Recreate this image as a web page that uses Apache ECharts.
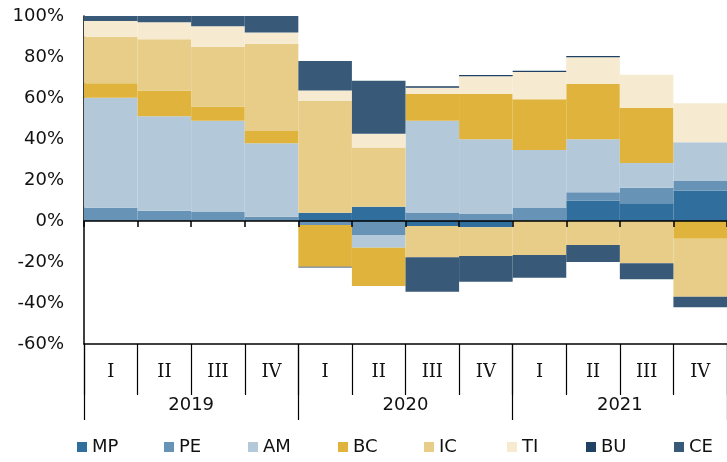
<!DOCTYPE html>
<html>
<head>
<meta charset="utf-8">
<script src="https://cdn.jsdelivr.net/npm/echarts@6/dist/echarts.min.js"></script>
<style>html,body{margin:0;padding:0;background:#fff}#c{width:727px;height:462px}</style>
</head>
<body>
<div id="c"></div>
<script>
var quarters = ['I','II','III','IV','I','II','III','IV','I','II','III','IV'];
var years = ['2019','2020','2021'];
var yTicks = [-60,-40,-20,0,20,40,60,80,100];

var MP = [0, 0, 0, 0, 4.0, 7.0, -2.4, -3.1, 0, 9.9, 8.6, 14.8];
var PE = [6.5, 5.0, 4.4, 2.1, -2.0, -6.8, 4.2, 3.4, 6.3, 4.1, 7.6, 4.7];
var AM = [53.6, 46.1, 44.5, 35.8, 0, -6.2, 44.7, 36.5, 28.3, 25.9, 12.1, 18.9];
var BC = [7.1, 12.5, 6.9, 6.0, -20.3, -18.7, 13.2, 22.2, 24.8, 27.1, 26.8, -8.6];
var IC = [22.7, 25.0, 29.2, 42.6, 54.5, 28.8, -15.3, -14.0, -16.6, -11.7, -20.6, -28.3];
var TI = [7.7, 8.3, 10.0, 5.5, 5.1, 6.8, 2.9, 8.5, 13.3, 12.9, 16.3, 19.0];
var BU = [0, 0, 0, 0, -0.4, 0, 0.7, 0.6, 0.6, 0.6, 0, 0];
var CE = [2.4, 3.1, 5.0, 8.0, 14.4, 25.8, -16.8, -12.5, -11.1, -8.3, -7.8, -5.2];

var seriesNames = ['MP','PE','AM','BC','IC','TI','BU','CE'];
var seriesData = [MP, PE, AM, BC, IC, TI, BU, CE];
var colors = ['#2f6e9d','#6793b7','#b3c8d9','#dfb33c','#e8cd88','#f6ebd0','#1f4263','#385a78'];
var legendLeft = [77, 164, 248, 338, 424, 507, 586, 674];

var FONT = 'DejaVu Sans';
var chart = echarts.init(document.getElementById('c'));
var series = seriesNames.map(function(n, i){
  return {
    name: n, type: 'bar', stack: 'total', xAxisIndex: 0, yAxisIndex: 0,
    barCategoryGap: '0%', data: seriesData[i],
    itemStyle: {color: colors[i]}, emphasis: {disabled: true}
  };
});
var legends = seriesNames.map(function(n, i){
  return {
    left: legendLeft[i], top: 438, itemWidth: 10, itemHeight: 10,
    icon: 'rect', selectedMode: false, padding: 0,
    textStyle: {fontFamily: FONT, fontSize: 18, color: '#111'},
    data: [n]
  };
});

chart.setOption({
  animation: false,
  color: colors,
  grid: {left: 84, top: 16, width: 655, height: 328, containLabel: false},
  legend: legends,
  yAxis: {
    type: 'value', min: yTicks[0], max: yTicks[yTicks.length-1], interval: 20,
    axisLine: {show: true, lineStyle: {color: '#000', width: 1.5}},
    axisTick: {show: false},
    splitLine: {show: false},
    axisLabel: {formatter: '{value}%', fontFamily: FONT, fontSize: 18, color: '#111', margin: 20}
  },
  xAxis: [
    {
      type: 'category', data: quarters, z: 10,
      axisLine: {onZero: true, lineStyle: {color: '#000', width: 1.5}},
      axisTick: {show: true, length: 6, interval: 0, lineStyle: {color: '#000', width: 1.5}},
      axisLabel: {show: false}
    },
    {
      type: 'category', data: quarters, position: 'bottom',
      axisLine: {onZero: false, show: true, lineStyle: {color: '#000', width: 1.5}},
      axisTick: {show: true, length: 51, interval: 0, lineStyle: {color: '#000', width: 1.2}},
      axisLabel: {interval: 0, fontFamily: 'DejaVu Serif', fontSize: 18, color: '#111', margin: 19}
    },
    {
      type: 'category', data: years, position: 'bottom',
      axisLine: {onZero: false, show: false},
      axisTick: {show: true, length: 76, interval: 0, lineStyle: {color: '#000', width: 1.2}},
      axisLabel: {interval: 0, fontFamily: FONT, fontSize: 18, color: '#111', margin: 52}
    }
  ],
  series: series
});
</script>
</body>
</html>
